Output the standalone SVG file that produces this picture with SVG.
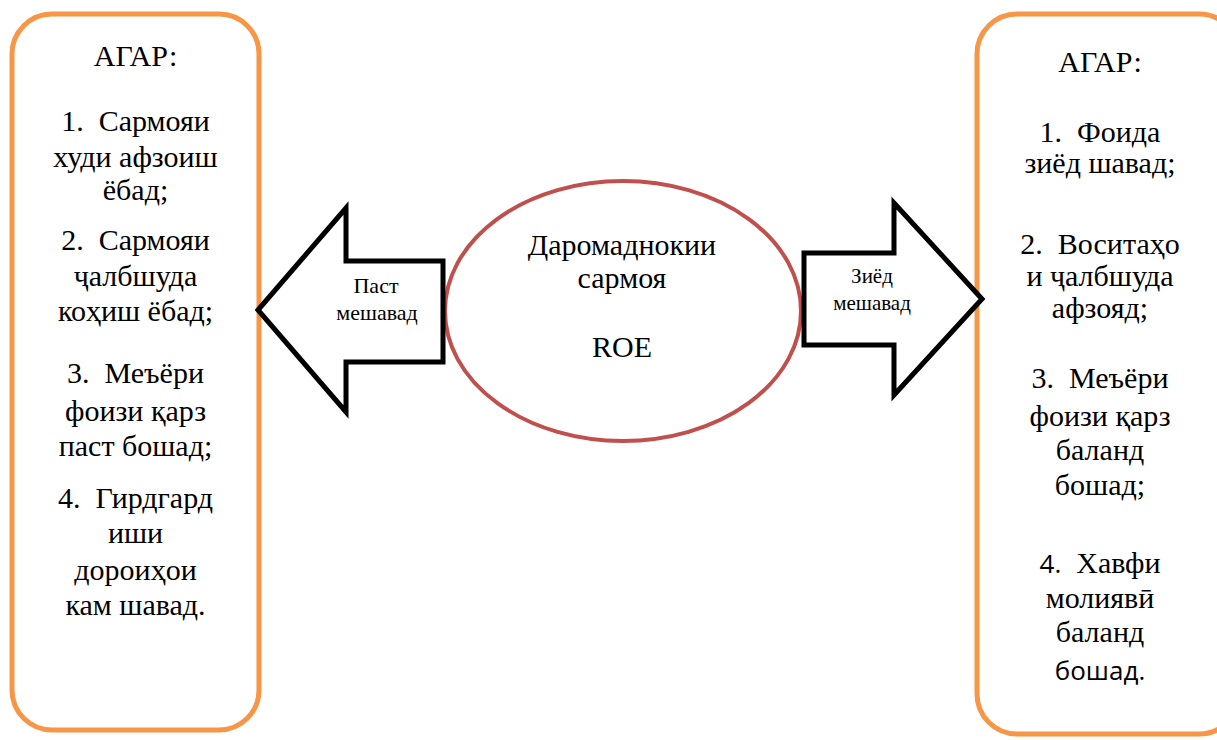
<svg xmlns="http://www.w3.org/2000/svg" width="1217" height="740" viewBox="0 0 1217 740">
<style>
.box{fill:#fff;stroke:#F79646;stroke-width:5}
.arrow{fill:#fff;stroke:#000;stroke-width:5;stroke-linejoin:miter}
.ell{fill:#fff;stroke:#C0504D;stroke-width:4}
</style>
<rect width="1217" height="740" fill="#fff"/>
<g id="left-box">
<rect class="box" x="12" y="14" width="247" height="716" rx="40"/>
<text x="135.5" y="66" font-family="Liberation Serif" font-size="30" text-anchor="middle">АГАР:</text>
<text x="135.5" y="131" font-family="Liberation Serif" font-size="30" text-anchor="middle" xml:space="preserve">1.  Сармояи</text>
<text x="135.5" y="167" font-family="Liberation Serif" font-size="30" text-anchor="middle">худи афзоиш</text>
<text x="135.5" y="200" font-family="Liberation Serif" font-size="30" text-anchor="middle">ёбад;</text>
<text x="135.5" y="250" font-family="Liberation Serif" font-size="30" text-anchor="middle" xml:space="preserve">2.  Сармояи</text>
<text x="135.5" y="286" font-family="Liberation Serif" font-size="30" text-anchor="middle">ҷалбшуда</text>
<text x="135.5" y="321" font-family="Liberation Serif" font-size="30" text-anchor="middle">коҳиш ёбад;</text>
<text x="135.5" y="383" font-family="Liberation Serif" font-size="30" text-anchor="middle" xml:space="preserve">3.  Меъёри</text>
<text x="135.5" y="421" font-family="Liberation Serif" font-size="30" text-anchor="middle">фоизи қарз</text>
<text x="135.5" y="456" font-family="Liberation Serif" font-size="30" text-anchor="middle">паст бошад;</text>
<text x="135.5" y="508" font-family="Liberation Serif" font-size="30" text-anchor="middle" xml:space="preserve">4.  Гирдгард</text>
<text x="135.5" y="543" font-family="Liberation Serif" font-size="30" text-anchor="middle">иши</text>
<text x="135.5" y="580" font-family="Liberation Serif" font-size="30" text-anchor="middle">дороиҳои</text>
<text x="135.5" y="615" font-family="Liberation Serif" font-size="30" text-anchor="middle">кам шавад.</text>
</g>
<g id="right-box">
<rect class="box" x="977" y="14" width="262" height="720" rx="40"/>
<text x="1100" y="72" font-family="Liberation Serif" font-size="30" text-anchor="middle">АГАР:</text>
<text x="1100" y="142" font-family="Liberation Serif" font-size="30" text-anchor="middle" xml:space="preserve">1.  Фоида</text>
<text x="1100" y="173" font-family="Liberation Serif" font-size="30" text-anchor="middle">зиёд шавад;</text>
<text x="1100" y="254" font-family="Liberation Serif" font-size="30" text-anchor="middle" xml:space="preserve">2.  Воситаҳо</text>
<text x="1100" y="286" font-family="Liberation Serif" font-size="30" text-anchor="middle">и ҷалбшуда</text>
<text x="1100" y="318" font-family="Liberation Serif" font-size="30" text-anchor="middle">афзояд;</text>
<text x="1100" y="388" font-family="Liberation Serif" font-size="30" text-anchor="middle" xml:space="preserve">3.  Меъёри</text>
<text x="1100" y="426" font-family="Liberation Serif" font-size="30" text-anchor="middle">фоизи қарз</text>
<text x="1100" y="460" font-family="Liberation Serif" font-size="30" text-anchor="middle">баланд</text>
<text x="1100" y="495" font-family="Liberation Serif" font-size="30" text-anchor="middle">бошад;</text>
<text x="1100" y="573" font-family="Liberation Serif" font-size="30" text-anchor="middle" xml:space="preserve"><tspan font-family="Open Sans" font-size="26">4.</tspan>  Хавфи</text>
<text x="1100" y="608" font-family="Liberation Serif" font-size="30" text-anchor="middle">молиявӣ</text>
<text x="1100" y="642" font-family="Liberation Serif" font-size="30" text-anchor="middle">баланд</text>
<text x="1100" y="680" font-family="Open Sans" font-size="26" text-anchor="middle">бошад.</text>
</g>
<g id="center-ellipse">
<ellipse class="ell" cx="623" cy="311" rx="178" ry="130"/>
<text x="622" y="255" font-family="Liberation Serif" font-size="30" text-anchor="middle">Даромаднокии</text>
<text x="622" y="288" font-family="Liberation Serif" font-size="30" text-anchor="middle">сармоя</text>
<text x="622" y="357" font-family="Liberation Serif" font-size="30" text-anchor="middle">ROE</text>
</g>
<g id="connectors">
<g id="arrow-left">
<polygon class="arrow" points="258,310 346,208 346,261 443,261 443,362 346,362 346,412"/>
<text x="376" y="293" font-family="Liberation Serif" font-size="22" text-anchor="middle">Паст</text>
<text x="377" y="320" font-family="Liberation Serif" font-size="22" text-anchor="middle">мешавад</text>
</g>
<g id="arrow-right">
<polygon class="arrow" points="982,299 894,203 894,253 804,253 804,345 894,345 894,395"/>
<text x="872" y="283" font-family="Liberation Serif" font-size="21" text-anchor="middle">Зиёд</text>
<text x="872" y="310" font-family="Liberation Serif" font-size="21" text-anchor="middle">мешавад</text>
</g>
</g>
</svg>
